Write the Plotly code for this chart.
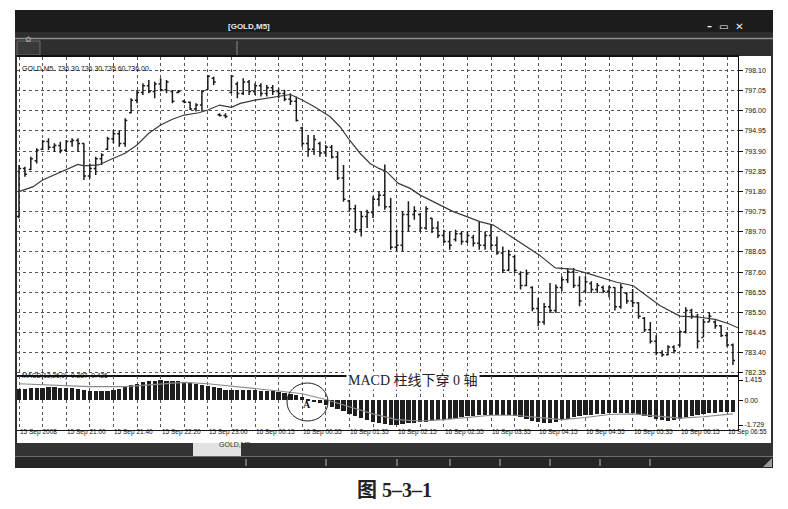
import plotly.graph_objects as go

W, H = 788, 509

# ---------------- data ----------------
opens = [790.50, 793.00, 792.95, 793.40, 794.00, 794.40, 794.10, 794.20, 793.95, 794.40,
         794.45, 794.30, 792.60, 793.00, 793.50, 794.00, 794.55, 794.80, 794.30, 795.90,
         796.55, 796.95, 797.30, 797.00, 797.40, 797.10, 797.00, 796.95, 796.50, 796.45,
         796.10, 796.30, 797.10, 797.70, 795.80, 795.75, 796.95, 797.40, 796.90, 797.50,
         797.00, 797.30, 796.90, 797.20, 797.00, 796.90, 796.60, 796.50, 795.10, 794.30,
         794.00, 794.30, 793.80, 794.10, 793.60, 792.50, 791.30, 790.90, 789.80, 790.50,
         790.70, 791.40, 791.60, 791.00, 788.90, 789.00, 790.60, 790.60, 790.60, 789.90,
         790.40, 789.90, 789.50, 789.20, 789.30, 789.60, 789.20, 789.40, 789.10, 789.00,
         789.50, 789.00, 788.60, 787.70, 788.40, 787.50, 786.90, 786.80, 785.70, 785.00,
         785.80, 785.60, 786.80, 787.20, 787.60, 786.90, 786.60, 787.00, 786.70, 786.80,
         786.60, 786.80, 785.80, 786.50, 786.10, 786.00, 785.20, 784.60, 784.00, 783.40,
         783.30, 783.70, 783.80, 784.50, 785.60, 785.30, 784.20, 785.00, 785.00, 784.80,
         784.30, 783.80]
highs = [793.18, 793.09, 793.61, 794.05, 794.48, 794.57, 794.31, 794.39, 794.48, 794.57,
         794.57, 794.31, 793.26, 793.61, 793.79, 794.65, 795.00, 795.00, 795.61, 796.65,
         797.08, 797.43, 797.61, 797.52, 797.69, 797.61, 797.08, 797.08, 796.56, 796.48,
         796.39, 797.08, 797.87, 797.78, 795.87, 795.87, 797.87, 797.52, 797.69, 797.61,
         797.43, 797.43, 797.34, 797.34, 797.17, 797.10, 796.91, 796.74, 795.17, 794.74,
         794.74, 794.39, 794.22, 794.22, 793.87, 793.18, 791.37, 791.11, 790.77, 790.85,
         791.55, 791.81, 793.20, 791.46, 789.81, 790.77, 791.29, 791.03, 790.68, 791.03,
         790.42, 790.25, 789.81, 789.72, 789.81, 789.72, 789.72, 789.55, 790.25, 789.72,
         790.07, 789.46, 788.94, 788.77, 788.51, 787.64, 787.73, 786.86, 786.25, 785.99,
         787.03, 786.95, 787.38, 787.82, 787.82, 787.38, 787.38, 787.12, 787.03, 786.90,
         786.89, 786.81, 786.98, 786.55, 786.72, 786.03, 785.26, 785.00, 784.31, 783.53,
         783.79, 783.79, 784.57, 785.77, 785.69, 785.43, 785.17, 785.52, 785.09, 784.83,
         784.48, 783.88]
lows = [790.40, 792.57, 792.92, 793.26, 793.96, 793.96, 793.87, 793.79, 793.87, 794.13,
        793.87, 792.40, 792.48, 792.66, 793.18, 793.96, 794.31, 794.13, 794.13, 795.87,
        796.39, 796.82, 796.91, 796.65, 797.00, 796.91, 796.39, 796.91, 796.39, 796.04,
        795.96, 795.96, 797.08, 797.34, 795.70, 795.61, 796.91, 796.65, 796.82, 796.82,
        796.82, 796.74, 796.74, 796.82, 796.65, 796.50, 796.30, 795.44, 794.13, 793.61,
        793.70, 793.61, 793.61, 793.52, 792.40, 791.27, 790.77, 789.64, 789.46, 789.90,
        790.42, 791.03, 790.85, 788.77, 788.68, 788.68, 789.72, 790.33, 789.72, 789.81,
        789.64, 789.38, 789.12, 788.77, 789.20, 789.03, 789.12, 788.94, 788.77, 788.77,
        788.77, 788.51, 787.55, 787.64, 787.55, 786.69, 786.86, 785.56, 784.78, 784.86,
        785.47, 785.47, 786.60, 787.03, 786.77, 785.82, 786.51, 786.51, 786.51, 786.50,
        786.29, 785.60, 785.69, 785.95, 785.77, 785.17, 784.48, 783.88, 783.27, 783.19,
        783.27, 783.36, 783.71, 784.40, 785.17, 783.62, 784.22, 785.00, 784.65, 784.22,
        783.71, 782.76]
closes = [793.00, 792.70, 793.50, 793.95, 794.40, 794.10, 794.20, 793.95, 794.40, 794.45,
          794.30, 792.60, 793.00, 793.50, 793.70, 794.55, 794.80, 794.30, 795.50, 796.55,
          796.95, 797.30, 797.00, 797.40, 797.10, 797.50, 796.50, 797.00, 796.45, 796.10,
          796.30, 797.00, 797.80, 797.50, 795.75, 795.70, 797.80, 796.90, 797.50, 797.00,
          797.30, 796.90, 797.20, 797.00, 796.90, 796.60, 796.50, 795.50, 794.30, 794.00,
          794.50, 793.80, 794.10, 793.60, 792.50, 791.40, 790.90, 789.80, 790.50, 790.70,
          791.40, 791.60, 791.00, 788.90, 789.00, 790.60, 790.00, 790.80, 789.90, 790.90,
          789.90, 789.50, 789.20, 789.00, 789.60, 789.20, 789.50, 789.10, 789.00, 789.50,
          789.00, 788.60, 787.70, 788.50, 787.70, 786.90, 787.50, 785.70, 785.00, 785.80,
          785.60, 786.80, 787.20, 787.60, 786.90, 786.10, 787.10, 786.70, 786.90, 786.60,
          786.80, 785.80, 786.80, 786.10, 786.00, 785.30, 784.60, 784.00, 783.40, 783.30,
          783.70, 783.50, 784.50, 785.60, 785.30, 784.00, 785.00, 785.30, 784.80, 784.30,
          783.80, 783.00]

ma_idx = [0, 2.4, 4, 6, 8, 10, 11, 13.5, 16, 18, 20, 22, 24, 26, 28, 30.5, 32, 34, 36,
          37.5, 40, 42, 44.5, 46, 48, 50, 52.7, 54.4, 56, 57.8, 59.5, 61, 62.3, 64.3,
          66.3, 68, 70.8, 73.6, 75.9, 78.1, 80.4, 82.6, 84.9, 88.1, 90.9, 93.7, 96.5,
          98.5, 101.3, 104.1, 106.4, 108.6, 112, 115.1, 118, 120.3, 121.86]
ma_vals = [791.79, 792.05, 792.40, 792.66, 792.92, 793.21, 793.13, 793.18, 793.53, 793.79,
           794.22, 794.83, 795.26, 795.56, 795.78, 795.90, 796.04, 796.30, 796.18, 796.39,
           796.56, 796.65, 796.77, 796.85, 796.56, 796.22, 795.70, 795.17, 794.48, 793.79,
           793.26, 793.00, 792.83, 792.22, 791.96, 791.61, 791.18, 790.75, 790.49, 790.23,
           790.05, 789.62, 789.15, 788.51, 787.82, 787.76, 787.52, 787.33, 787.07, 786.89,
           786.38, 785.86, 785.31, 785.26, 785.14, 784.91, 784.70]

macd_hist = [0.80, 0.82, 0.85, 0.85, 0.88, 0.90, 0.90, 0.88, 0.86, 0.85, 0.80,
             0.72, 0.65, 0.62, 0.62, 0.65, 0.70,
             0.80, 0.92, 1.05, 1.15, 1.25, 1.32, 1.38, 1.41,
             1.38, 1.35, 1.32, 1.28,
             1.20, 1.12, 1.05, 1.00, 0.95,
             0.85, 0.75, 0.72, 0.72, 0.70, 0.70, 0.70,
             0.68, 0.65, 0.62, 0.58, 0.52,
             0.45, 0.35, 0.22, 0.08,
             -0.08, -0.18, -0.30, -0.45, -0.60, -0.78, -0.95, -1.10, -1.25, -1.40, -1.50, -1.60, -1.66,
             -1.73, -1.70, -1.65,
             -1.62, -1.58, -1.55, -1.50, -1.45, -1.40, -1.35, -1.30, -1.25, -1.18, -1.12, -1.08, -1.05,
             -1.02, -1.00, -1.00, -1.02, -1.05, -1.10, -1.20,
             -1.32, -1.42, -1.52, -1.58, -1.56, -1.50, -1.40, -1.30,
             -1.20, -1.10, -1.05, -1.00, -0.98, -0.95, -0.92, -0.92, -0.90, -0.90, -0.92, -0.98, -1.08, -1.20,
             -1.32, -1.40, -1.42, -1.38, -1.30,
             -1.20, -1.10, -1.02, -0.98, -0.92, -0.88, -0.85, -0.82, -0.80]

sig_idx = [0, 6, 12, 18, 24, 28, 32, 36, 40, 44, 48, 52, 56, 60, 64, 68, 72, 76, 80,
           84, 88, 92, 96, 100, 104, 108, 112, 116, 121]
sig_vals = [1.15, 1.05, 0.95, 0.95, 1.15, 1.25, 1.15, 1.00, 0.85, 0.65, 0.45, 0.05, -0.45,
            -0.95, -1.35, -1.45, -1.35, -1.20, -1.05, -1.05, -1.20, -1.35, -1.20, -1.00,
            -0.95, -1.10, -1.25, -1.15, -0.95]

price_ticks = [798.10, 797.05, 796.00, 794.95, 793.90, 792.85, 791.80, 790.75, 789.70,
               788.65, 787.60, 786.55, 785.50, 784.45, 783.40, 782.35]
macd_ticks = [1.415, 0.0, -1.729]
macd_tick_text = ["1.415", "0.00", "-1.729"]

time_label_idx = [0, 8, 16, 24, 32, 40, 48, 56, 64, 72, 80, 88, 96, 104, 112, 120]
time_labels = ["15 Sep 2008", "15 Sep 21:00", "15 Sep 21:40", "15 Sep 22:20", "15 Sep 23:00",
               "16 Sep 00:15", "16 Sep 00:55", "16 Sep 01:35", "16 Sep 02:15", "16 Sep 02:55",
               "16 Sep 03:35", "16 Sep 04:15", "16 Sep 04:55", "16 Sep 05:35", "16 Sep 06:15",
               "16 Sep 06:55"]

header_text = "GOLD,M5  736.30 736.30 735.60 736.00"
macd_label = "MACD(12,26,9) -0.387 -0.426"
window_title = "[GOLD,M5]"
annot_text = "MACD 柱线下穿 0 轴"
caption = "图 5–3–1"

# ---------------- helpers ----------------
def px(x):
    return x / W

def py(y):
    return 1 - y / H

bar_index = list(range(len(highs)))
FONT_S = "Liberation Sans, DejaVu Sans, sans-serif"
FONT_CN = "Liberation Serif, Noto Sans CJK SC, serif"

fig = go.Figure()

fig.add_trace(go.Ohlc(
    x=bar_index, open=opens, high=highs, low=lows, close=closes,
    increasing=dict(line=dict(color="#1a1a1a", width=1.5)),
    decreasing=dict(line=dict(color="#1a1a1a", width=1.5)),
    tickwidth=0.35, showlegend=False, hoverinfo="skip",
    xaxis="x", yaxis="y"))

fig.add_trace(go.Scatter(
    x=ma_idx, y=ma_vals, mode="lines",
    line=dict(color="#3a3a3a", width=1.2),
    showlegend=False, hoverinfo="skip", xaxis="x", yaxis="y"))

fig.add_trace(go.Bar(
    x=bar_index, y=macd_hist, width=0.72,
    marker=dict(color="#1e1e1e", line=dict(width=0)),
    showlegend=False, hoverinfo="skip", xaxis="x2", yaxis="y2"))

fig.add_trace(go.Scatter(
    x=sig_idx, y=sig_vals, mode="lines",
    line=dict(color="#8a8a8a", width=1.1),
    showlegend=False, hoverinfo="skip", xaxis="x2", yaxis="y2"))

grid = dict(showgrid=True, gridcolor="#555555", griddash="dot", gridwidth=1)

x_range = [-0.34, 121.86]
fig.update_layout(
    width=W, height=H,
    margin=dict(l=0, r=0, t=0, b=0),
    paper_bgcolor="white", plot_bgcolor="rgba(0,0,0,0)",
    bargap=0,
    xaxis=dict(domain=[px(17), px(738)], range=x_range, anchor="y",
               tick0=0, dtick=4, showticklabels=False, ticks="",
               zeroline=False, showline=True, linecolor="#111", linewidth=2, mirror=True,
               rangeslider=dict(visible=False), **grid),
    xaxis2=dict(domain=[px(17), px(738)], range=x_range, anchor="y2", matches="x",
                tick0=0, dtick=4, showticklabels=False, ticks="",
                zeroline=False, showline=True, linecolor="#111", linewidth=1,
                **grid),
    yaxis=dict(domain=[py(375), py(57)], range=[782.241, 798.803], side="right",
               tickvals=price_ticks, ticktext=["%.2f" % v for v in price_ticks],
               ticks="outside", ticklen=4, tickcolor="#111",
               tickfont=dict(family=FONT_S, size=7, color="#111"),
               showline=True, linecolor="#111", linewidth=1, zeroline=False, **grid),
    yaxis2=dict(domain=[py(430), py(376)], range=[-2.078, 1.695], side="right",
                tickvals=macd_ticks, ticktext=macd_tick_text,
                ticks="outside", ticklen=4, tickcolor="#111",
                tickfont=dict(family=FONT_S, size=7, color="#111"),
                showline=True, linecolor="#111", linewidth=1, zeroline=False,
                showgrid=False),
)

shapes = []
def rect(x0, y0, x1, y1, fill, layer="below", line=None):
    shapes.append(dict(type="rect", xref="paper", yref="paper",
                       x0=px(x0), x1=px(x1), y0=py(y1), y1=py(y0),
                       fillcolor=fill, line=line or dict(width=0), layer=layer))

def hline(x0, x1, y, color, width=1, layer="below"):
    shapes.append(dict(type="line", xref="paper", yref="paper",
                       x0=px(x0), x1=px(x1), y0=py(y), y1=py(y),
                       line=dict(color=color, width=width), layer=layer))

def vline(x, y0, y1, color, width=1, layer="below"):
    shapes.append(dict(type="line", xref="paper", yref="paper",
                       x0=px(x), x1=px(x), y0=py(y0), y1=py(y1),
                       line=dict(color=color, width=width), layer=layer))

# window frame
rect(15, 10, 773, 468, "#2e2e2e")
rect(15, 10, 773, 32, "#1c1c1c")
hline(15, 773, 38.5, "#8c8c8c", 1.5)
rect(17, 41, 40, 55, "#3a3a3a", line=dict(color="#6a6a6a", width=1))
vline(237, 41, 55, "#8a8a8a", 1)
# white chart area
rect(17, 56, 771, 443, "white")
# bottom tab bar
rect(15, 443, 773, 456, "#333333")
rect(193, 443, 241, 456, "#e2e2e2")
hline(15, 773, 456.5, "#6e6e6e", 1)
rect(15, 457, 773, 468, "#262626")
for tx in [246, 326, 397, 450, 500, 550, 600, 650]:
    vline(tx, 459, 466, "#bdbdbd", 1)
shapes.append(dict(type="path", xref="paper", yref="paper",
                   path="M %f %f L %f %f L %f %f Z" % (px(772), py(458), px(772), py(467), px(763), py(467)),
                   fillcolor="#9a9a9a", line=dict(width=0), layer="below"))

# circle around the crossing point
shapes.append(dict(type="circle", xref="paper", yref="paper",
                   x0=px(287), x1=px(328), y0=py(421), y1=py(383),
                   line=dict(color="#222", width=1), layer="above"))

fig.update_layout(shapes=shapes)

ann = []
# window title and buttons
ann.append(dict(x=px(226), y=py(20), xref="paper", yref="paper", text="<b>" + window_title + "</b>",
                showarrow=False, font=dict(family=FONT_S, size=8, color="#e8e8e8")))
ann.append(dict(x=px(746), y=py(19), xref="paper", yref="paper", text="<b>–  ▭  ✕</b>",
                showarrow=False, font=dict(family="DejaVu Sans", size=10, color="#f0f0f0")))
ann.append(dict(x=px(23), y=py(33), xref="paper", yref="paper", text="✿",
                showarrow=False, font=dict(family="DejaVu Sans", size=8, color="#9a9a9a")))
ann.append(dict(x=px(217), y=py(449.5), xref="paper", yref="paper", text="GOLD,M5",
                showarrow=False, font=dict(family=FONT_S, size=7, color="#333")))
# in-chart labels
ann.append(dict(x=px(20), y=py(63), xref="paper", yref="paper", text=header_text,
                xanchor="left", showarrow=False, font=dict(family=FONT_S, size=7, color="#111")))
ann.append(dict(x=px(20), y=py(382), xref="paper", yref="paper", text=macd_label,
                xanchor="left", showarrow=False, font=dict(family=FONT_S, size=6.5, color="#111")))
# time labels
for i, lab in zip(time_label_idx, time_labels):
    ann.append(dict(x=i, y=py(438), xref="x2", yref="paper", text=lab, xanchor="left",
                    xshift=-1, showarrow=False, font=dict(family=FONT_S, size=6.5, color="#111")))
# annotation text on the separator (yshift compensates the tall CJK line box)
ann.append(dict(x=px(413), y=py(380), xref="paper", yref="paper", text=annot_text,
                yshift=-10, showarrow=False, bgcolor="white", borderpad=1,
                font=dict(family=FONT_CN, size=14, color="#222")))
ann.append(dict(x=px(307), y=py(412), xref="paper", yref="paper", text="<b>A</b>",
                showarrow=False, font=dict(family="Liberation Serif, serif", size=10, color="#111")))
# caption
ann.append(dict(x=px(394), y=py(491), xref="paper", yref="paper", text="<b>" + caption + "</b>",
                yshift=-12, showarrow=False, font=dict(family=FONT_CN, size=20, color="#222")))

fig.update_layout(annotations=ann)

fig.write_html("out.html", config={"displayModeBar": False},
               post_script="document.body.style.margin='0px';document.body.style.overflow='hidden';")
